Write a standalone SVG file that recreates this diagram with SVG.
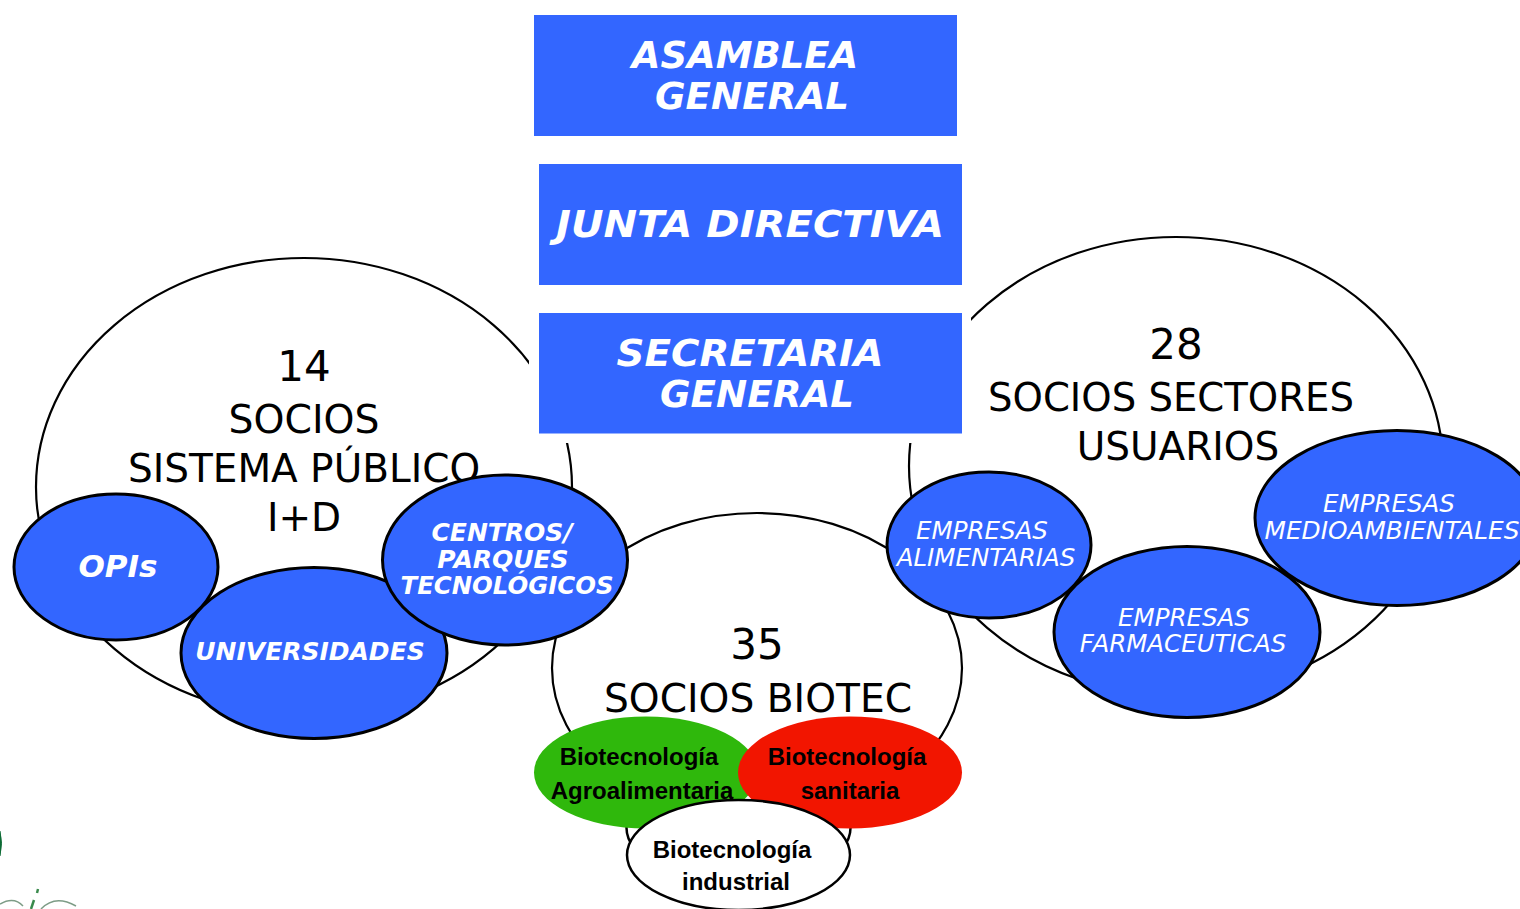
<svg xmlns="http://www.w3.org/2000/svg" width="1520" height="909" viewBox="0 0 1520 909">
<style>
.box{fill:#3366ff}
.big{fill:#fff;stroke:#000;stroke-width:2.2}
.blue{fill:#3366ff;stroke:#000;stroke-width:3}
text{text-anchor:middle}
.t{font-family:"DejaVu Sans",Verdana,sans-serif;fill:#fff;font-weight:bold;font-style:italic;font-size:37px}
.n{font-family:"DejaVu Sans",Verdana,sans-serif;fill:#000;font-size:39px}
.d{font-size:42px}
.w{font-family:"DejaVu Sans",Verdana,sans-serif;fill:#fff;font-style:italic;font-size:24.500px}
.b{font-family:"DejaVu Sans",Verdana,sans-serif;fill:#fff;font-style:italic;font-weight:bold;font-size:25px}
.k{font-family:"Liberation Sans",Arial,sans-serif;fill:#000;font-weight:bold;font-size:24px}
</style>
<rect width="1520" height="909" fill="#fff"/>
<g id="logo" fill="none" stroke="#3a8a4c">
<path d="M0 831 Q3 843 0 856" fill="#0d6b35" stroke="#0d6b35" stroke-width="1"/>
<path d="M0 904 Q14 896 23 906" stroke-width="1.5" stroke="#7d9c86"/>
<path d="M38 889 L37 893" stroke-width="2.5"/>
<path d="M34 900 L31 909" stroke-width="2.5"/>
<path d="M41 909 Q55 894 76 906" stroke-width="1.5" stroke="#7d9c86"/>
</g>
<g id="socios-publico">
<ellipse class="big" cx="304" cy="487" rx="268" ry="229"/>
<text class="n d" x="304" y="381">14</text>
<text class="n" x="304" y="433" textLength="151" lengthAdjust="spacingAndGlyphs">SOCIOS</text>
<text class="n" x="304" y="482">SISTEMA PÚBLICO</text>
<text class="n" x="304" y="531">I+D</text>
</g>
<g id="socios-usuarios">
<ellipse class="big" cx="1176" cy="466" rx="267" ry="229"/>
<text class="n d" x="1176" y="359">28</text>
<text class="n" x="1171" y="411" textLength="366" lengthAdjust="spacingAndGlyphs">SOCIOS SECTORES</text>
<text class="n" x="1178" y="460">USUARIOS</text>
</g>
<g id="socios-biotec">
<ellipse class="big" cx="757" cy="668" rx="205" ry="155"/>
<text class="n d" x="757" y="659">35</text>
<text class="n" x="758" y="712" textLength="308" lengthAdjust="spacingAndGlyphs">SOCIOS BIOTEC</text>
</g>
<g id="halo"><rect x="529" y="303" width="442" height="140" fill="#fff"/></g>
<g id="asamblea"><rect class="box" x="534" y="15" width="423" height="121"/>
<text class="t" x="745" y="68">ASAMBLEA</text><text class="t" x="752" y="109" textLength="194" lengthAdjust="spacingAndGlyphs">GENERAL</text></g>
<g id="junta"><rect class="box" x="539" y="164" width="423" height="121"/>
<text class="t" x="750" y="237" textLength="388" lengthAdjust="spacingAndGlyphs">JUNTA DIRECTIVA</text></g>
<g id="secretaria"><rect class="box" x="539" y="313" width="423" height="120.500"/>
<text class="t" x="750" y="366" textLength="267" lengthAdjust="spacingAndGlyphs">SECRETARIA</text><text class="t" x="757" y="407" textLength="194" lengthAdjust="spacingAndGlyphs">GENERAL</text></g>
<g id="opis"><ellipse class="blue" cx="116" cy="567" rx="102" ry="73"/>
<text class="b" x="118" y="577" style="font-size:31px">OPIs</text></g>
<g id="universidades"><ellipse class="blue" cx="314" cy="653" rx="133" ry="85.500"/>
<text class="b" x="310" y="660">UNIVERSIDADES</text></g>
<g id="centros"><ellipse class="blue" cx="505" cy="560" rx="122.500" ry="85"/>
<text class="b" x="502" y="541">CENTROS/</text><text class="b" x="503" y="568">PARQUES</text><text class="b" x="507" y="594" textLength="213" lengthAdjust="spacingAndGlyphs">TECNOLÓGICOS</text></g>
<g id="alimentarias"><ellipse class="blue" cx="989" cy="545" rx="102" ry="73"/>
<text class="w" x="982" y="539">EMPRESAS</text><text class="w" x="986" y="566">ALIMENTARIAS</text></g>
<g id="farmaceuticas"><ellipse class="blue" cx="1187" cy="632" rx="133" ry="85.500"/>
<text class="w" x="1184" y="626">EMPRESAS</text><text class="w" x="1183" y="652">FARMACEUTICAS</text></g>
<g id="medioambientales"><ellipse class="blue" cx="1397" cy="518" rx="142" ry="87.500"/>
<text class="w" x="1389" y="512">EMPRESAS</text><text class="w" x="1392" y="539" textLength="255" lengthAdjust="spacingAndGlyphs">MEDIOAMBIENTALES</text></g>
<g id="industrial-back"><ellipse cx="738.500" cy="828" rx="112" ry="55" fill="#fff" stroke="#000" stroke-width="2.500"/></g>
<g id="agro"><ellipse cx="646" cy="772.500" rx="112" ry="56" fill="#2fb80c"/>
<text class="k" x="639" y="765">Biotecnología</text><text class="k" x="642" y="799">Agroalimentaria</text></g>
<g id="sanitaria"><ellipse cx="850" cy="772.500" rx="112" ry="56" fill="#f21500"/>
<text class="k" x="847" y="765">Biotecnología</text><text class="k" x="850" y="799">sanitaria</text></g>
<g id="industrial"><ellipse cx="738.500" cy="855" rx="111.500" ry="55" fill="#fff" stroke="#000" stroke-width="2.500"/>
<text class="k" x="732" y="858">Biotecnología</text><text class="k" x="736" y="890">industrial</text></g>
<g id="connectors"/>
</svg>
